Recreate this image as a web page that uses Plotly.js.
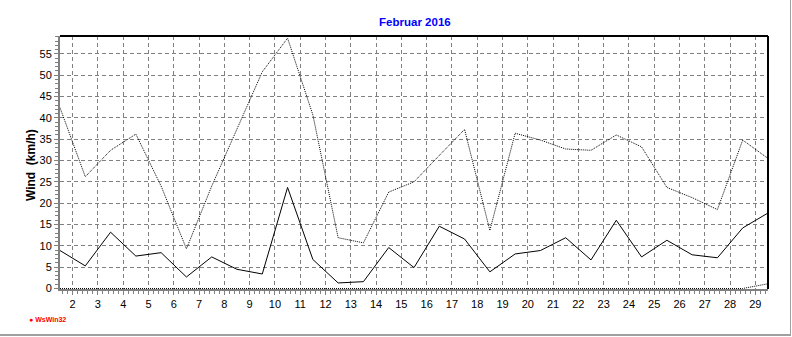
<!DOCTYPE html>
<html>
<head>
<meta charset="utf-8">
<script src="https://cdn.plot.ly/plotly-3.0.1.min.js"></script>
<style>
  html, body { margin: 0; padding: 0; background: #ffffff; }
  #wrap { position: relative; width: 792px; height: 337px; overflow: hidden; }
  #chart { position: absolute; left: 0; top: 0; width: 792px; height: 337px; }
  #frame { position: absolute; left: 0; top: 0; width: 790px; height: 334px;
           border-right: 1px solid #a0a0a0; border-bottom: 2px solid #a0a0a0; pointer-events: none; }
</style>
</head>
<body>
<div id="wrap">
  <div id="chart"></div>
  <div id="frame"></div>
</div>
<script>
// Day of month (February 2016)
const days = [1,2,3,4,5,6,7,8,9,10,11,12,13,14,15,16,17,18,19,20,21,22,23,24,25,26,27,28,29];
// Daily mean wind (km/h)
const windMean = [8.9, 5.3, 13.2, 7.6, 8.4, 2.7, 7.4, 4.5, 3.4, 23.7, 6.8, 1.3, 1.6, 9.6, 4.9,
                  14.6, 11.6, 3.9, 8.1, 8.9, 11.9, 6.7, 16.0, 7.4, 11.3, 7.9, 7.2, 14.2, 17.7];
// Daily max gust (km/h)
const windGust = [42.4, 26.2, 32.4, 36.2, 24.0, 9.3, 24.0, 37.5, 50.8, 58.7, 40.7, 11.9, 10.7, 22.6, 25.0,
                  31.2, 37.3, 13.6, 36.4, 34.8, 32.7, 32.4, 36.0, 33.2, 23.7, 21.3, 18.5, 34.8, 30.5];
// Third series (near zero)
const windMin = [0,0,0,0,0,0,0,0,0,0,0,0,0,0,0,0,0,0,0,0,0,0,0,0,0,0,0,0,1.1];
// Axis ticks
const xTicks = [2,3,4,5,6,7,8,9,10,11,12,13,14,15,16,17,18,19,20,21,22,23,24,25,26,27,28,29];
const yTicks = [0,5,10,15,20,25,30,35,40,45,50,55];

// each daily value is plotted at the middle of its day
const xPos = days.map(d => d + 0.5);

const traces = [
  { x: xPos, y: windMin, type: 'scatter', mode: 'lines',
    line: { color: '#000000', width: 1, dash: '1px,1px' }, hoverinfo: 'skip' },
  { x: xPos, y: windGust, type: 'scatter', mode: 'lines',
    line: { color: '#000000', width: 1, dash: '1px,1px' }, hoverinfo: 'skip' },
  { x: xPos, y: windMean, type: 'scatter', mode: 'lines',
    line: { color: '#000000', width: 1 }, hoverinfo: 'skip' }
];

const tickFont = { family: 'Liberation Sans, Arial, sans-serif', size: 11, color: '#000000' };

const layout = {
  width: 792, height: 337,
  margin: { l: 60, r: 24, t: 36, b: 48, pad: 0 },
  paper_bgcolor: '#ffffff', plot_bgcolor: '#ffffff',
  showlegend: false,
  title: {
    text: '<b>Februar 2016</b>',
    font: { family: 'Liberation Sans, Arial, sans-serif', size: 11.5, color: '#0000ff' },
    x: 397 / 792, xref: 'paper', xanchor: 'center',
    y: 1 - 21.5 / 337, yref: 'container', yanchor: 'middle'
  },
  xaxis: {
    range: [1.5, 29.5], tickmode: 'array', tickvals: xTicks, ticktext: xTicks.map(String),
    showgrid: true, gridcolor: '#808080', gridwidth: 1, griddash: '4px,3px',
    zeroline: false, showline: true, linecolor: '#808080', linewidth: 2,
    ticks: 'outside', ticklen: 4, tickcolor: '#808080', tickwidth: 1,
    minor: { dtick: 0.2, tick0: 0, ticks: 'outside', ticklen: 3, tickcolor: '#808080', tickwidth: 1, showgrid: false },
    tickfont: tickFont, fixedrange: true
  },
  yaxis: {
    range: [-0.12, 59.2], tickmode: 'array', tickvals: yTicks, ticktext: yTicks.map(String),
    showgrid: true, gridcolor: '#808080', gridwidth: 1, griddash: '4px,3px',
    zeroline: false, showline: true, linecolor: '#808080', linewidth: 2,
    ticks: 'outside', ticklen: 4, tickcolor: '#808080', tickwidth: 1,
    minor: { dtick: 1, tick0: 0, ticks: 'outside', ticklen: 3, tickcolor: '#808080', tickwidth: 1, showgrid: false },
    tickfont: tickFont, fixedrange: true
  },
  shapes: [
    { type: 'line', xref: 'paper', yref: 'paper', x0: 0, x1: 1, y0: 1, y1: 1,
      line: { color: '#000000', width: 2 } },
    { type: 'line', xref: 'paper', yref: 'paper', x0: 1, x1: 1, y0: 0, y1: 1,
      line: { color: '#000000', width: 2 } }
  ],
  annotations: [
    { text: '<b>Wind  (km/h)</b>', textangle: -90, showarrow: false,
      xref: 'paper', yref: 'paper', x: (31 - 60) / 708, y: 0.49,
      xanchor: 'center', yanchor: 'middle',
      font: { family: 'Liberation Sans, Arial, sans-serif', size: 12, color: '#000000' } },
    { text: '<b>● WsWin32</b>', showarrow: false,
      xref: 'paper', yref: 'paper', x: (27 - 60) / 708, y: (289 - 319.5) / 253,
      xanchor: 'left', yanchor: 'middle',
      font: { family: 'Liberation Sans, Arial, sans-serif', size: 7, color: '#ff0000' } }
  ]
};

Plotly.newPlot('chart', traces, layout, { staticPlot: true, displayModeBar: false });
</script>
</body>
</html>
